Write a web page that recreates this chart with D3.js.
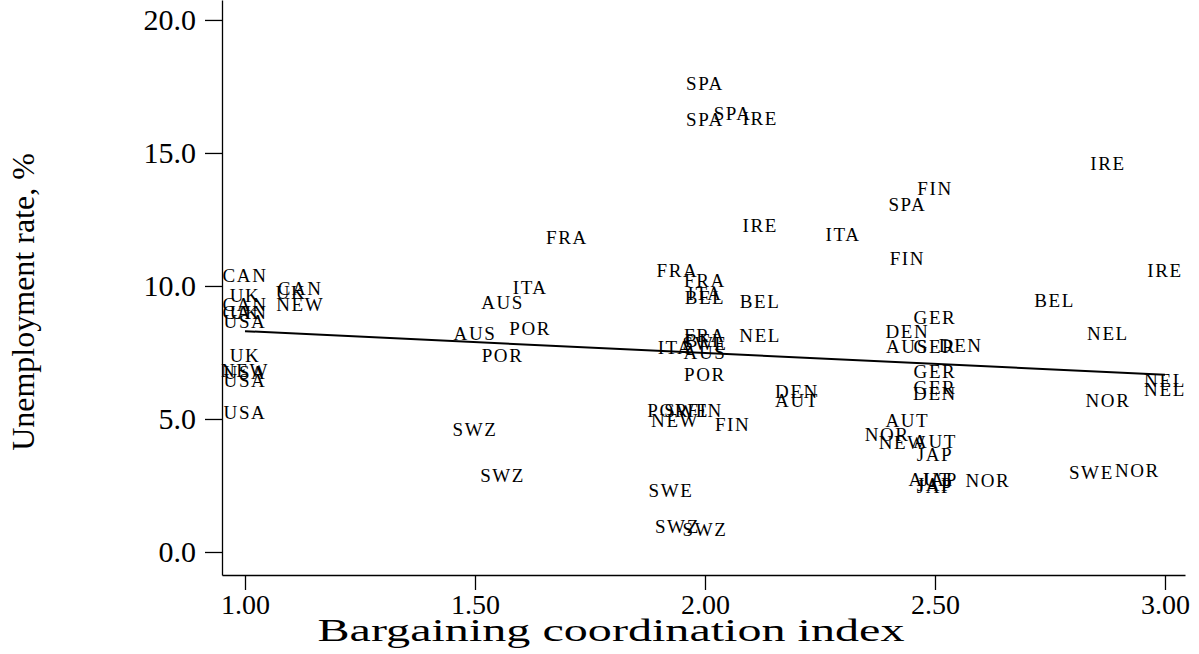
<!DOCTYPE html>
<html>
<head>
<meta charset="utf-8">
<script src="https://cdn.jsdelivr.net/npm/d3@7"></script>
<style>
  html, body { margin: 0; padding: 0; background: #fff; }
  svg { display: block; }
  text { font-family: "Liberation Serif", "Times New Roman", serif; fill: #000; }
</style>
</head>
<body>
<svg id="chart" width="1199" height="654"></svg>
<script>
// ---- data ----
const labels = ["CAN","UK","CAN","CAN","UK","USA","UK","NEW","USA","USA","USA",
  "CAN","UK","NEW","AUS","ITA","AUS","POR","POR","SWZ","SWZ","FRA",
  "FRA","FRA","ITA","BEL","BEL","FRA","BEL","SWE","ITA","AUS","NEL","POR",
  "POR","SWE","FIN","NEW","FIN","SPA","SPA","IRE","SPA","IRE","ITA","SPA",
  "FIN","FIN","IRE","IRE","BEL","NEL","NEL","NEL","NOR","SWE","NOR","DEN",
  "AUT","SWE","SWZ","SWZ","GER","DEN","AUS","GER","DEN","GER","GER","DEN",
  "AUT","NOR","NEW","AUT","JAP","AUT","JAP","JAP","JAP","NOR"];
const coordIndex = [1.00,1.00,1.00,1.00,1.00,1.00,1.00,1.00,1.00,1.00,1.00,
  1.12,1.10,1.12,1.56,1.62,1.50,1.62,1.56,1.50,1.56,1.70,
  1.94,2.00,2.00,2.00,2.12,2.00,2.00,2.00,1.935,2.00,2.12,2.00,
  1.92,1.96,2.00,1.935,2.06,2.00,2.06,2.12,2.00,2.12,2.30,2.44,
  2.50,2.44,2.876,3.00,2.76,2.876,3.00,3.00,2.876,2.84,2.94,2.20,
  2.20,1.926,1.94,2.00,2.50,2.44,2.44,2.50,2.556,2.50,2.50,2.50,
  2.44,2.396,2.43,2.50,2.50,2.49,2.51,2.50,2.50,2.615];
const unemployment = [10.41,9.66,9.32,9.02,9.02,8.65,7.37,6.82,6.75,6.43,5.26,
  9.92,9.77,9.32,9.38,9.96,8.23,8.42,7.37,4.59,2.86,11.84,
  10.60,10.19,9.73,9.58,9.40,8.12,7.95,7.85,7.70,7.50,8.12,6.69,
  5.30,5.30,5.30,4.96,4.81,17.61,16.50,16.30,16.24,12.29,11.95,13.05,
  13.65,11.02,14.62,10.60,9.47,8.20,6.43,6.09,5.71,3.00,3.08,6.02,
  5.68,2.33,0.96,0.83,8.80,8.30,7.74,7.74,7.78,6.78,6.17,5.96,
  4.96,4.40,4.10,4.17,3.65,2.72,2.72,2.55,2.48,2.70];
const fitX = [1.00, 3.00];
const fitY = [8.30, 6.66];
const yTicks = [0, 5, 10, 15, 20];
const xTicks = [1.00, 1.50, 2.00, 2.50, 3.00];
const xTitle = "Bargaining coordination index";
const yTitle = "Unemployment rate, %";

// ---- layout ----
const svg = d3.select("#chart");
const L = 222, R = 1185, T = 0, B = 575;
const x = d3.scaleLinear().domain([0.95, 3.0435]).range([L, R]);
const y = d3.scaleLinear().domain([-0.865, 20.75]).range([B, T]);
const FONT = '"Liberation Serif", "Times New Roman", serif';

// axes
const yAxis = d3.axisLeft(y).tickValues(yTicks).tickFormat(d3.format(".1f"))
  .tickSize(17).tickSizeOuter(0).tickPadding(9);
const xAxis = d3.axisBottom(x).tickValues(xTicks).tickFormat(d3.format(".2f"))
  .tickSize(15).tickSizeOuter(0).tickPadding(4);

const gy = svg.append("g").attr("transform", `translate(${L},0)`).call(yAxis);
const gx = svg.append("g").attr("transform", `translate(0,${B})`).call(xAxis);
[gy, gx].forEach(g => {
  g.selectAll("path.domain").attr("stroke", "#000").attr("stroke-width", 1.3);
  g.selectAll(".tick line").attr("stroke", "#000").attr("stroke-width", 1.3);
  g.selectAll(".tick text").style("font-family", FONT).attr("fill", "#000");
});
gy.selectAll(".tick text").style("font-size", "30px");
gx.selectAll(".tick text").style("font-size", "28px");

// axis titles
svg.append("text").attr("x", 611).attr("y", 641).attr("text-anchor", "middle")
  .attr("textLength", 587).attr("lengthAdjust", "spacingAndGlyphs")
  .style("font-size", "31px").text(xTitle);
svg.append("text").attr("transform", "translate(34,302) rotate(-90)")
  .attr("text-anchor", "middle").style("font-size", "32px").text(yTitle);

// regression line
svg.append("line")
  .attr("x1", x(fitX[0])).attr("y1", y(fitY[0]))
  .attr("x2", x(fitX[1])).attr("y2", y(fitY[1]))
  .attr("stroke", "#000").attr("stroke-width", 2);

// point labels
const pts = labels.map((l, i) => ({ l, cx: coordIndex[i], cy: unemployment[i] }));
svg.append("g").selectAll("text").data(pts).join("text")
  .attr("x", d => x(d.cx))
  .attr("y", d => y(d.cy) + 6.5)
  .attr("text-anchor", "middle")
  .style("font-size", "19px")
  .style("letter-spacing", "1.6px")
  .text(d => d.l);
</script>
</body>
</html>
